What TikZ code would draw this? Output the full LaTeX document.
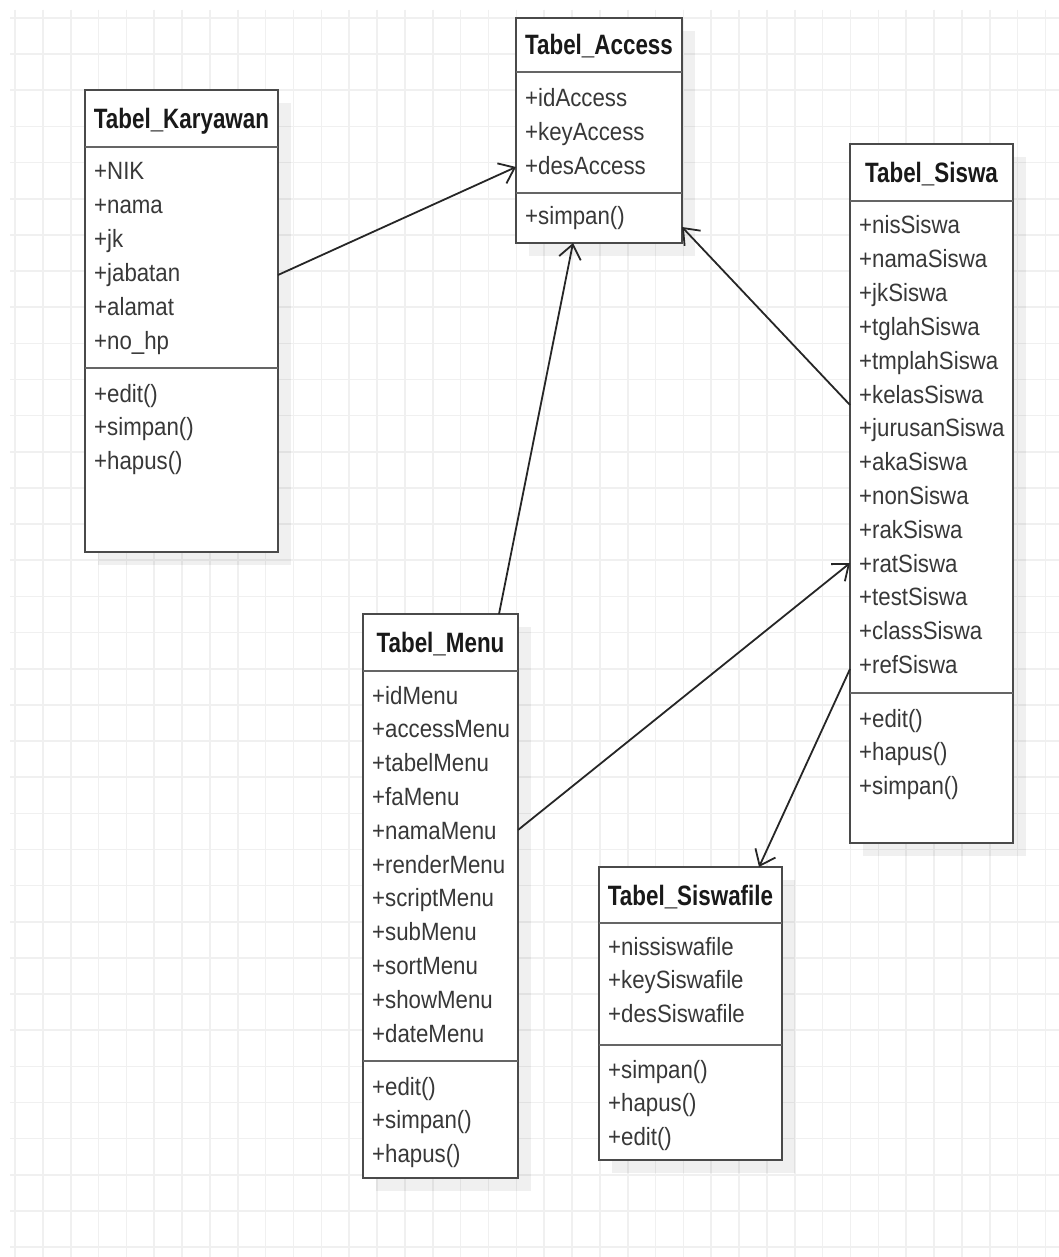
\documentclass[tikz,border=0pt]{standalone}
\usepackage{fontspec}
\setmainfont{Liberation Sans}
\newfontfamily\attrfont{Liberation Sans}[FakeStretch=0.89]
\newfontfamily\headfont{Liberation Sans}[FakeStretch=0.8]
\usetikzlibrary{arrows.meta,calc}
\definecolor{gridc}{HTML}{F0F0F0}
\definecolor{borderc}{HTML}{4A4A4A}
\definecolor{txtc}{HTML}{383838}
\tikzset{
  classbox/.style={draw=borderc, line width=2.2pt, fill=white, rectangle, inner sep=0pt, outer sep=0pt, anchor=north west},
  sepline/.style={draw=borderc!85, line width=2.8pt},
  titletext/.style={anchor=base, inner sep=0pt, font=\headfont\bfseries\fontsize{28}{30}\selectfont, text=black!90},
  itemtext/.style={anchor=base west, inner sep=0pt, font=\attrfont\fontsize{25}{28}\selectfont, text=txtc},
  assoc/.style={draw=black!85, line width=1.8pt, -{Straight Barb[length=14pt,width=22pt,line width=1.8pt]}},
  gridline/.style={draw=gridc, line width=1.6pt},
}
\newcommand\umlbox[8]{%
  \fill[black, opacity=0.06] (#2+13,#3+13) rectangle ++(#4,#5);
  \node[classbox, minimum width=#4pt, minimum height=#5pt] (#1) at (#2,#3) {};
  \draw[sepline] ([yshift=-#6pt]#1.north west) -- ([yshift=-#6pt]#1.north east);
  \draw[sepline] ([yshift=-#7pt]#1.north west) -- ([yshift=-#7pt]#1.north east);
  \node[titletext] (#1-title) at ($(#1.north)+(0,{#6/2+10})$) {#8};
}
\newcommand\umlitems[4]{%
  \foreach \t [count=\i from 0] in {#4}
    \node[itemtext] (#1-#3\i) at ($(#1.north west)+(9,{#2+33.8*\i})$) {\t};
}
\begin{document}
\begin{tikzpicture}[x=1pt,y=-1pt]
\useasboundingbox (0,0) rectangle (1059,1257);
\fill[white] (0,0) rectangle (1059,1257);
\foreach \k in {0,...,37} \draw[gridline] ({15+27.85*\k},10) -- ({15+27.85*\k},1257);
\foreach \k in {0,...,34} \draw[gridline] (10,{18+36.15*\k}) -- (1059,{18+36.15*\k});

% Tabel_Access
\umlbox{acc}{516}{18}{166}{225}{54}{175}{Tabel\_Access}
\umlitems{acc}{89}{a}{+idAccess,+keyAccess,+desAccess}
\umlitems{acc}{207}{m}{+simpan()}

% Tabel_Karyawan
\umlbox{kar}{85}{90}{193}{462}{57}{278}{Tabel\_Karyawan}
\umlitems{kar}{90}{a}{+NIK,+nama,+jk,+jabatan,+alamat,+no\_hp}
\umlitems{kar}{312}{m}{+edit(),+simpan(),+hapus()}

% Tabel_Siswa
\umlbox{sis}{850}{144}{163}{699}{57}{549}{Tabel\_Siswa}
\umlitems{sis}{90}{a}{+nisSiswa,+namaSiswa,+jkSiswa,+tglahSiswa,+tmplahSiswa,+kelasSiswa,+jurusanSiswa,+akaSiswa,+nonSiswa,+rakSiswa,+ratSiswa,+testSiswa,+classSiswa,+refSiswa}
\umlitems{sis}{583}{m}{+edit(),+hapus(),+simpan()}

% Tabel_Menu
\umlbox{men}{363}{614}{155}{564}{57}{447}{Tabel\_Menu}
\umlitems{men}{90}{a}{+idMenu,+accessMenu,+tabelMenu,+faMenu,+namaMenu,+renderMenu,+scriptMenu,+subMenu,+sortMenu,+showMenu,+dateMenu}
\umlitems{men}{481}{m}{+edit(),+simpan(),+hapus()}

% Tabel_Siswafile
\umlbox{sf}{599}{867}{183}{293}{56}{178}{Tabel\_Siswafile}
\umlitems{sf}{88}{a}{+nissiswafile,+keySiswafile,+desSiswafile}
\umlitems{sf}{211}{m}{+simpan(),+hapus(),+edit()}

% connectors
\draw[assoc] ([yshift=-185pt]kar.north east) -- ([yshift=-149pt]acc.north west);
\draw[assoc] ([xshift=136pt]men.north west) -- ([xshift=57pt]acc.south west);
\draw[assoc] ([yshift=-261pt]sis.north west) -- ([yshift=-209pt]acc.north east);
\draw[assoc] ([yshift=-216pt]men.north east) -- ([yshift=-419pt]sis.north west);
\draw[assoc] ([yshift=-525pt]sis.north west) -- ([xshift=160pt]sf.north west);
\end{tikzpicture}
\end{document}
